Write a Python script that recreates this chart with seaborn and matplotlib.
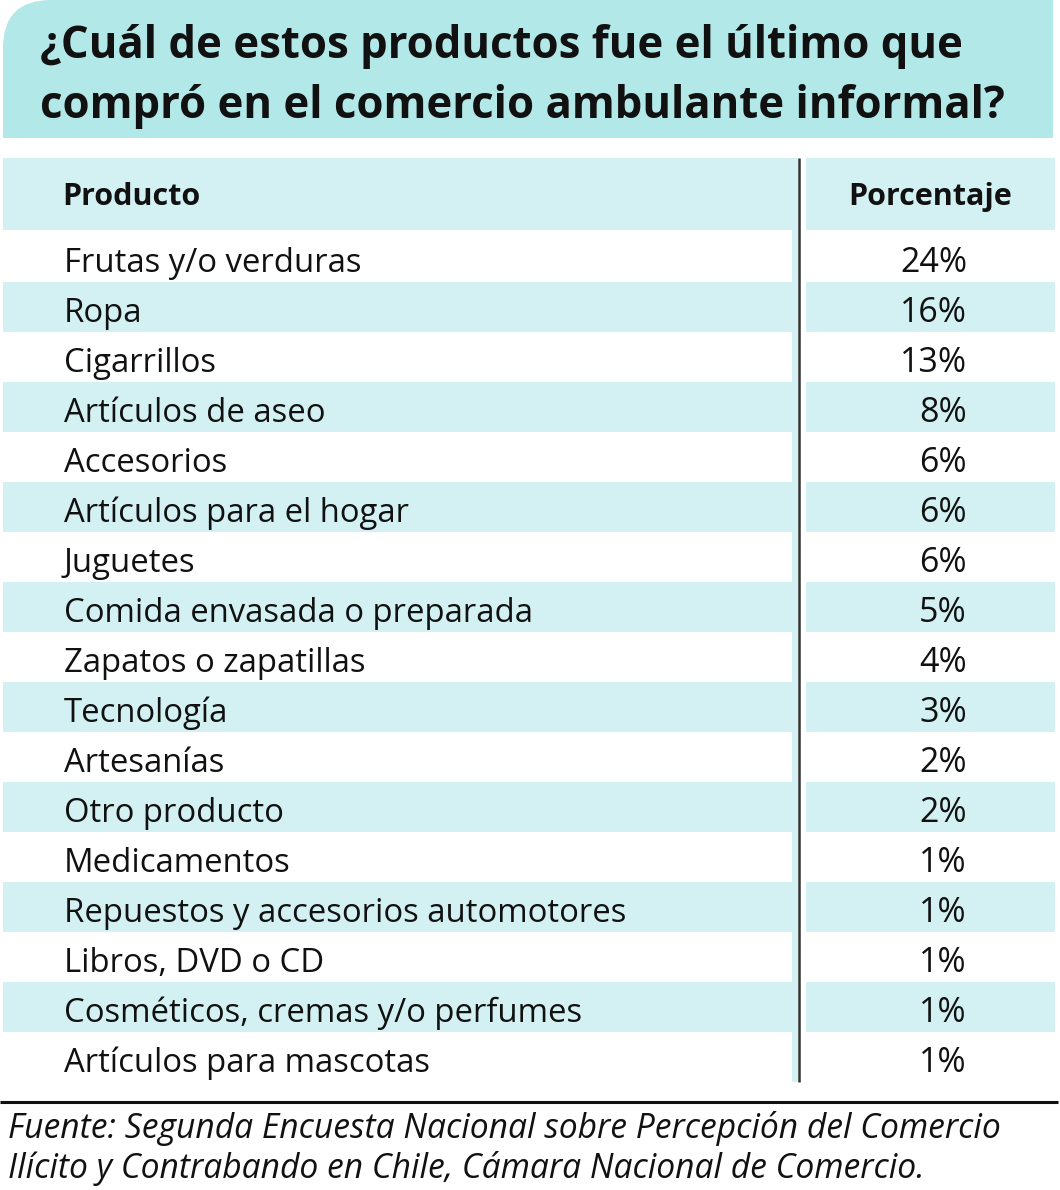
import matplotlib
matplotlib.use("Agg")
import matplotlib.pyplot as plt
import seaborn as sns
from matplotlib.patches import Rectangle, FancyBboxPatch

# ---- data ----
title_lines = ["¿Cuál de estos productos fue el último que",
               "compró en el comercio ambulante informal?"]
header_producto = "Producto"
header_porcentaje = "Porcentaje"
productos = [
    "Frutas y/o verduras", "Ropa", "Cigarrillos", "Artículos de aseo",
    "Accesorios", "Artículos para el hogar", "Juguetes",
    "Comida envasada o preparada", "Zapatos o zapatillas", "Tecnología",
    "Artesanías", "Otro producto", "Medicamentos",
    "Repuestos y accesorios automotores", "Libros, DVD o CD",
    "Cosméticos, cremas y/o perfumes", "Artículos para mascotas",
]
porcentajes = [24, 16, 13, 8, 6, 6, 6, 5, 4, 3, 2, 2, 1, 1, 1, 1, 1]
fuente_lines = ["Fuente: Segunda Encuesta Nacional sobre Percepción del Comercio",
                "Ilícito y Contrabando en Chile, Cámara Nacional de Comercio."]

# ---- style ----
sns.set_theme(style="white")
FONT = ["Open Sans", "DejaVu Sans"]
plt.rcParams["font.family"] = FONT

TITLE_BG = "#b3e8e8"
BAND = "#d3f1f2"
TXT = "#111111"

W, H = 1060, 1190
fig = plt.figure(figsize=(W / 100, H / 100), dpi=100)
ax = fig.add_axes([0, 0, 1, 1])
ax.set_xlim(0, W)
ax.set_ylim(H, 0)
ax.axis("off")

# title box with rounded top-left corner
r = 48
bx0, bx1, by0, by1 = 3, 1053, 0, 138
ax.add_patch(FancyBboxPatch((bx0 + r, by0 + r), (bx1 - bx0) - 2 * r, (by1 - by0) - 2 * r,
                            boxstyle=f"round,pad={r}", fc=TITLE_BG, ec="none"))
ax.add_patch(Rectangle((500, by0), bx1 - 500, by1 - by0, fc=TITLE_BG, ec="none"))
ax.add_patch(Rectangle((bx0, 60), 600, by1 - 60, fc=TITLE_BG, ec="none"))
for i, line in enumerate(title_lines):
    ax.text(40, 58 + 60 * i, line, fontsize=31.5, fontweight="bold",
            color=TXT, va="baseline", ha="left", zorder=3)

# table layout
top_h, hdr_bot = 158, 230
row_top, row_h = 232, 50
n = len(productos)
tbl_bot = row_top + row_h * n
xl0, xl1 = 3, 798
xr0, xr1 = 806, 1055
xdiv = 799

# header band
ax.add_patch(Rectangle((xl0, top_h), xl1 - xl0, hdr_bot - top_h, fc=BAND, ec="none"))
ax.add_patch(Rectangle((xr0, top_h), xr1 - xr0, hdr_bot - top_h, fc=BAND, ec="none"))
ax.text(62, 205, header_producto, fontsize=22, fontweight="bold",
        color=TXT, va="baseline", ha="left")
ax.text(930.5, 205, header_porcentaje, fontsize=22,
        fontweight="bold", color=TXT, va="baseline", ha="center")

# thin teal strip left of divider
ax.add_patch(Rectangle((792, top_h), 6, tbl_bot - top_h, fc=BAND, ec="none"))

for i, (prod, pct) in enumerate(zip(productos, porcentajes)):
    y0 = row_top + row_h * i
    if i % 2 == 1:
        ax.add_patch(Rectangle((xl0, y0), xl1 - xl0, row_h, fc=BAND, ec="none"))
        ax.add_patch(Rectangle((xr0, y0), xr1 - xr0, row_h, fc=BAND, ec="none"))
    yb = y0 + 40
    ax.text(64, yb, prod, fontsize=23.7, color=TXT, va="baseline", ha="left")
    ax.text(967, yb, f"{pct}%", fontsize=24.5, color=TXT, va="baseline", ha="right")

# divider
ax.plot([xdiv, xdiv], [top_h, tbl_bot], color="#333333", lw=1.8, solid_capstyle="butt")

# bottom rule and source
ax.plot([0, 1058], [1102, 1102], color="#111111", lw=2.2, solid_capstyle="butt")
for i, line in enumerate(fuente_lines):
    ax.text(8, 1138 + 40 * i, line, fontsize=24.2, style="italic", color=TXT,
            va="baseline", ha="left")

fig.savefig("out.png", dpi=100)
